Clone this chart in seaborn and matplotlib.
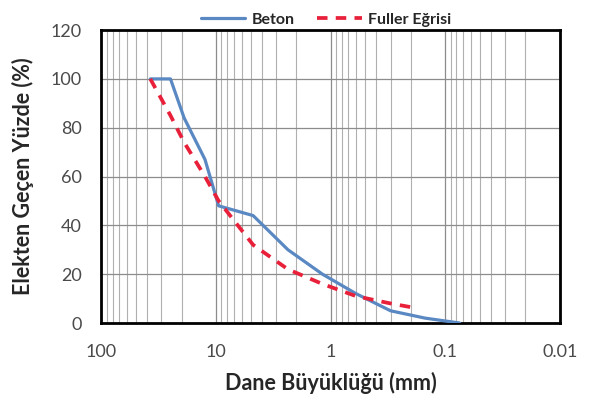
import matplotlib
matplotlib.use("Agg")
import matplotlib.pyplot as plt
import seaborn as sns
import pandas as pd
from matplotlib.ticker import FixedLocator, FixedFormatter, LogLocator, NullFormatter

sns.set_theme(style="white")
plt.rcParams['font.family'] = ['Lato', 'DejaVu Sans']

# Data
sieve_beton = [37.5, 25, 19, 12.5, 9.5, 4.75, 2.36, 1.18, 0.6, 0.3, 0.15, 0.075]
pass_beton = [100, 100, 84, 67, 48, 44, 30, 20, 12, 5, 2, 0]
sieve_fuller = [37.5, 25, 19, 12.5, 9.5, 4.75, 2.36, 1.18, 0.6, 0.3, 0.2]
pass_fuller = [100, 85, 74, 60, 50, 32, 22, 16, 11, 8, 6.5]
xticks = [100, 10, 1, 0.1, 0.01]
xtick_labels = ["100", "10", "1", "0.1", "0.01"]
yticks = [0, 20, 40, 60, 80, 100, 120]

fig = plt.figure(figsize=(5.9, 4.12), dpi=100)
ax = fig.add_axes([0.172, 0.216, 0.777, 0.711])

df_b = pd.DataFrame({"d": sieve_beton, "p": pass_beton})
df_f = pd.DataFrame({"d": sieve_fuller, "p": pass_fuller})

ax.set_xscale("log")
sns.lineplot(data=df_b, x="d", y="p", ax=ax, sort=False, color="#5A88C2",
             linewidth=2.3, label="Beton", zorder=3)
sns.lineplot(data=df_f, x="d", y="p", ax=ax, sort=False, color="#E8203A",
             linewidth=2.7, label="Fuller Eğrisi", zorder=4)
ax.lines[1].set_linestyle((0, (2.8, 2.2)))

ax.set_xlim(100, 0.01)
ax.set_ylim(0, 120)
ax.xaxis.set_major_locator(FixedLocator(xticks))
ax.xaxis.set_major_formatter(FixedFormatter(xtick_labels))
ax.xaxis.set_minor_locator(LogLocator(base=10, subs=range(2, 10)))
ax.xaxis.set_minor_formatter(NullFormatter())
ax.set_yticks(yticks)

ax.grid(True, which="major", axis="both", color="#8c8c8c", linewidth=0.9)
ax.grid(True, which="minor", axis="x", color="#b0b0b0", linewidth=0.8)
ax.set_axisbelow(True)

for s in ax.spines.values():
    s.set_color("black")
    s.set_linewidth(2.0)

ax.tick_params(axis="both", which="both", length=0, labelsize=13,
               labelcolor="#4a4a4a")
ax.tick_params(axis="x", pad=15)
ax.tick_params(axis="y", pad=14)

ax.set_xlabel("Dane Büyüklüğü (mm)", fontsize=15.5, fontweight="bold",
              color="#262626", labelpad=9)
ax.set_ylabel("Elekten Geçen Yüzde (%)", fontsize=15.5, fontweight="bold",
              color="#262626", labelpad=12)

leg = ax.legend(loc="lower center", bbox_to_anchor=(0.49, 0.99), ncol=2,
                frameon=False, prop={"weight": "bold", "size": 11.5},
                handlelength=2.8, columnspacing=1.4, borderaxespad=0.0,
                handletextpad=0.4)
for t in leg.get_texts():
    t.set_color("#262626")

fig.savefig("out.png", dpi=100)
